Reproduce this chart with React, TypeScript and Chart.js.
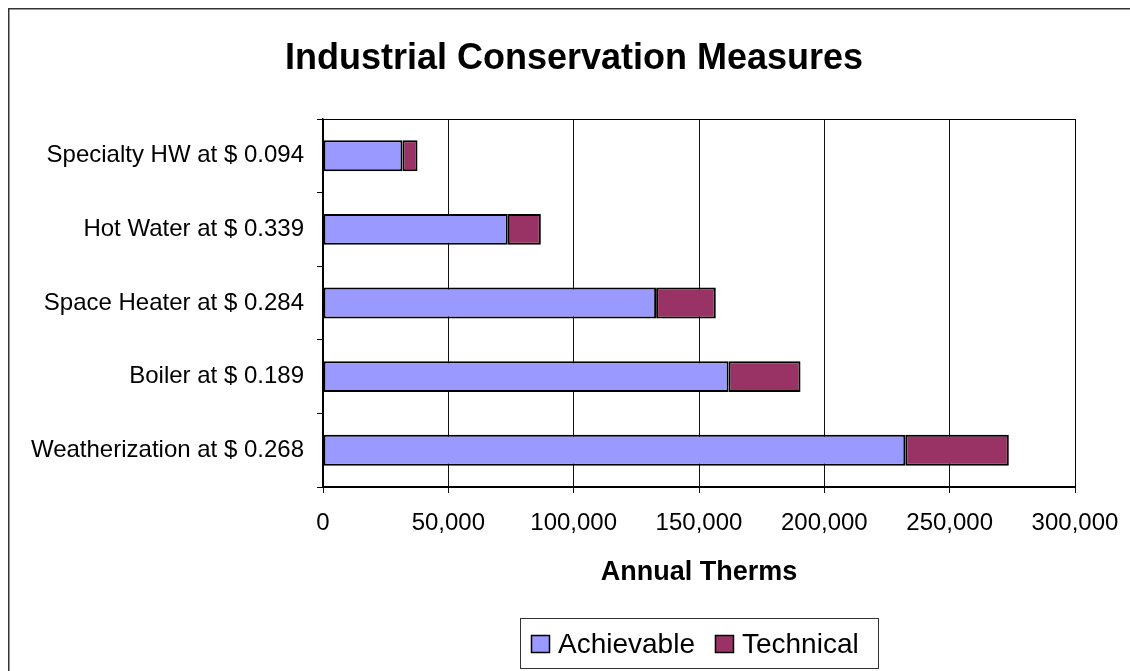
import React, { useEffect, useRef } from "react";
import { Chart, registerables } from "chart.js";

Chart.register(...registerables);

// Measures, listed top to bottom
const categories = [
  "Specialty HW at $ 0.094",
  "Hot Water at $ 0.339",
  "Space Heater at $ 0.284",
  "Boiler at $ 0.189",
  "Weatherization at $ 0.268",
];

// Annual therms per measure
const achievable = [31700, 73700, 132900, 161800, 232300];
const technical = [6000, 13200, 23800, 28700, 41300];

const axisMin = 0;
const axisMax = 300000;
const axisStep = 50000;

const chartTitle = "Industrial Conservation Measures";
const xAxisTitle = "Annual Therms";
const seriesNames = ["Achievable", "Technical"];
const seriesColors = ["#9999FF", "#993366"];

const FONT = "'Liberation Sans', Arial, sans-serif";

const decorPlugin = {
  id: "decor",
  afterDraw(chart: any) {
    const { ctx, chartArea: a, width, height } = chart;
    ctx.save();

    // outer chart border (left and top edges)
    ctx.strokeStyle = "#333";
    ctx.lineWidth = 1.5;
    ctx.beginPath();
    ctx.moveTo(0.75, height);
    ctx.lineTo(0.75, 0.75);
    ctx.lineTo(width, 0.75);
    ctx.stroke();

    // plot area frame
    ctx.strokeStyle = "#000";
    ctx.lineWidth = 1;
    const l = Math.round(a.left) + 0.5;
    const t = Math.round(a.top) + 0.5;
    ctx.strokeRect(l, t, Math.round(a.right) - Math.round(a.left), Math.round(a.bottom) - Math.round(a.top));

    // title
    ctx.fillStyle = "#000";
    ctx.textAlign = "center";
    ctx.textBaseline = "alphabetic";
    ctx.font = `bold 36px ${FONT}`;
    ctx.fillText(chartTitle, 566, 61);

    // x axis title
    ctx.font = `bold 27px ${FONT}`;
    ctx.fillText(xAxisTitle, (a.left + a.right) / 2, 572);

    // legend
    const boxX = 512;
    const boxY = 610.5;
    const boxW = 358;
    const boxH = 50;
    ctx.strokeStyle = "#333";
    ctx.lineWidth = 1;
    ctx.strokeRect(boxX + 0.5, boxY, boxW, boxH);

    ctx.font = `28px ${FONT}`;
    ctx.textAlign = "left";
    let x = boxX + 11;
    seriesNames.forEach((name, i) => {
      ctx.fillStyle = seriesColors[i];
      ctx.fillRect(x, 627, 19, 18);
      ctx.strokeStyle = "#000";
      ctx.lineWidth = 1.5;
      ctx.strokeRect(x + 0.5, 627.5, 18, 17);
      ctx.fillStyle = "#000";
      ctx.fillText(name, x + 27, 645);
      x += 27 + ctx.measureText(name).width + 20;
    });

    ctx.restore();
  },
};

export default function App() {
  const canvasRef = useRef<HTMLCanvasElement | null>(null);

  useEffect(() => {
    const canvas = canvasRef.current;
    if (!canvas) return;
    const chart = new Chart(canvas, {
      type: "bar",
      data: {
        labels: categories,
        datasets: [
          {
            label: seriesNames[0],
            data: achievable,
            backgroundColor: seriesColors[0],
            borderColor: "#000",
            borderWidth: 2,
            borderSkipped: false,
            barPercentage: 0.42,
            categoryPercentage: 1,
          },
          {
            label: seriesNames[1],
            data: technical,
            backgroundColor: seriesColors[1],
            borderColor: "#000",
            borderWidth: 2,
            borderSkipped: false,
            barPercentage: 0.42,
            categoryPercentage: 1,
          },
        ],
      },
      options: {
        indexAxis: "y",
        responsive: false,
        animation: false,
        devicePixelRatio: 1,
        layout: { padding: { top: 111, right: 55, bottom: 0, left: 0 } },
        plugins: {
          legend: { display: false },
          title: { display: false },
          tooltip: { enabled: false },
        },
        scales: {
          x: {
            stacked: true,
            min: axisMin,
            max: axisMax,
            ticks: {
              stepSize: axisStep,
              color: "#000",
              font: { family: FONT, size: 24 },
              padding: 16,
              maxRotation: 0,
              autoSkip: false,
              callback: (v: any) => Number(v).toLocaleString("en-US"),
            },
            grid: { color: "#111", lineWidth: 1, tickLength: 6, drawTicks: true },
            border: { color: "#000", width: 1.5 },
            afterFit: (s: any) => {
              s.height = 184;
              s.paddingLeft = 0;
              s.paddingRight = 0;
            },
          },
          y: {
            stacked: true,
            ticks: {
              color: "#000",
              font: { family: FONT, size: 24 },
              padding: 13,
              autoSkip: false,
            },
            grid: { drawOnChartArea: false, color: "#000", tickLength: 6, drawTicks: true },
            border: { color: "#000", width: 1.5 },
            afterFit: (s: any) => {
              s.width = 315;
            },
          },
        },
      },
      plugins: [decorPlugin],
    } as any);
    return () => chart.destroy();
  }, []);

  return (
    <div style={{ position: "fixed", left: 8, top: 8, width: 1122, height: 663, background: "#fff" }}>
      <canvas ref={canvasRef} width={1122} height={663} style={{ display: "block" }} />
    </div>
  );
}
